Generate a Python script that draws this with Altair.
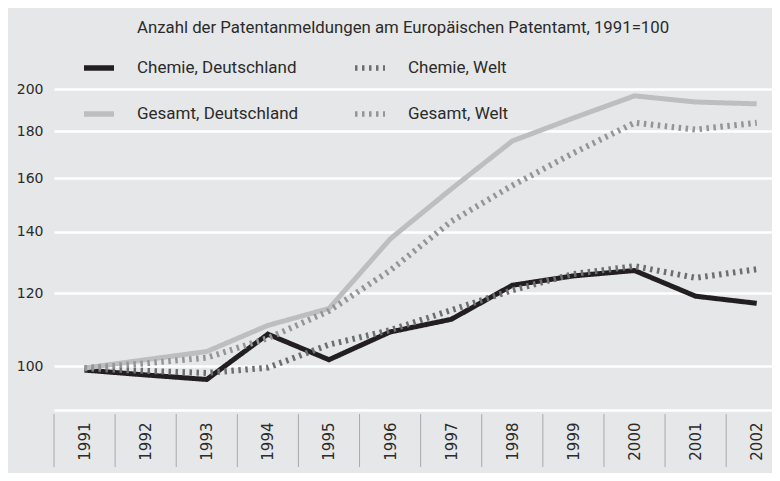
import altair as alt
import pandas as pd

years = list(range(1991, 2003))
chemie_de = [99.0, 97.8, 96.7, 108.3, 101.6, 108.9, 112.4, 122.4, 125.3, 127.0, 119.1, 117.0]
chemie_welt = [99.4, 98.8, 98.3, 99.6, 105.5, 109.4, 115.0, 120.9, 125.9, 128.4, 124.7, 127.4]
gesamt_de = [99.5, 101.6, 103.7, 110.7, 115.5, 137.4, 155.7, 175.6, 186.0, 196.6, 193.6, 192.7]
gesamt_welt = [99.5, 100.7, 102.1, 107.2, 114.8, 127.0, 143.6, 157.1, 170.4, 183.8, 180.7, 183.8]

series_names = ["Chemie, Deutschland", "Chemie, Welt", "Gesamt, Deutschland", "Gesamt, Welt"]
series_colors = ["#231f20", "#6d6e71", "#bcbec0", "#939598"]
series_dash = [[1, 0], [2.5, 4.5], [1, 0], [2.5, 4.5]]
y_ticks = [100, 120, 140, 160, 180, 200]
separators = [y - 0.5 for y in years]
title_text = "Anzahl der Patentanmeldungen am Europäischen Patentamt, 1991=100"

rows = []
for name, vals in zip(series_names, [chemie_de, chemie_welt, gesamt_de, gesamt_welt]):
    for yr, v in zip(years, vals):
        rows.append({"jahr": yr, "wert": v, "reihe": name})
df = pd.DataFrame(rows)

TEXT = "#2b2b2b"
x_scale = alt.Scale(domain=[1990.5, 2002.25], nice=False, zero=False)
y_scale = alt.Scale(type="log", domain=[89.59, 220.5], nice=False, zero=False)

x_axis = alt.Axis(
    values=years, format="d", labelAngle=-90, ticks=False, tickSize=0, grid=False,
    domainColor="white", domainWidth=2.5, labelPadding=12, labelFont="DejaVu Sans",
    labelFontSize=15, labelColor=TEXT, title=None, labelFlush=False, labelOverlap=False)
x_enc = alt.X("jahr:Q", scale=x_scale, axis=x_axis)
y_enc = alt.Y("wert:Q", scale=y_scale, axis=alt.Axis(
    values=y_ticks, format="d", grid=True, gridColor="white", gridWidth=2.5,
    domain=False, ticks=False, tickSize=0, labelPadding=11, title=None,
    labelFont="DejaVu Sans", labelFontSize=14, labelColor=TEXT))

color_enc = alt.Color("reihe:N", scale=alt.Scale(domain=series_names, range=series_colors),
    legend=alt.Legend(title=None, orient="none", legendX=27, legendY=0, columns=2,
                      direction="horizontal",
                      symbolType="stroke", symbolSize=900, symbolStrokeWidth=5.5,
                      labelOffset=20, columnPadding=45, rowPadding=17, labelLimit=400,
                      labelFont="Roboto", labelFontSize=17, labelColor=TEXT, padding=0))
dash_enc = alt.StrokeDash("reihe:N", scale=alt.Scale(domain=series_names, range=series_dash))

base = alt.Chart(df)
solid = base.transform_filter(alt.FieldOneOfPredicate(field="reihe", oneOf=["Chemie, Deutschland", "Gesamt, Deutschland"])) \
    .mark_line(strokeWidth=5, strokeJoin="miter").encode(x=x_enc, y=y_enc, color=color_enc, strokeDash=dash_enc)
dashed = base.transform_filter(alt.FieldOneOfPredicate(field="reihe", oneOf=["Chemie, Welt", "Gesamt, Welt"])) \
    .mark_line(strokeWidth=6, strokeCap="butt").encode(x=x_enc, y=y_enc, color=color_enc, strokeDash=dash_enc)

seps = alt.Chart(pd.DataFrame({"jahr": separators})).mark_rule(color="#a9a9a9", strokeWidth=1).encode(
    x=x_enc, y=alt.value(364), y2=alt.value(417))

title = alt.Chart(pd.DataFrame({"t": [title_text]})).mark_text(
    align="left", baseline="middle", font="Roboto", fontSize=16.8, color=TEXT).encode(
    text="t:N", x=alt.value(83), y=alt.value(-22))

chart = alt.layer(seps, title, solid, dashed).properties(
    width=718, height=360, autosize="none",
    padding={"left": 46, "top": 42, "right": 0, "bottom": 63},
    background="#e6e7e8",
).configure_view(stroke=None)

chart.save("out.html", embed_options={"renderer": "svg", "actions": False})
